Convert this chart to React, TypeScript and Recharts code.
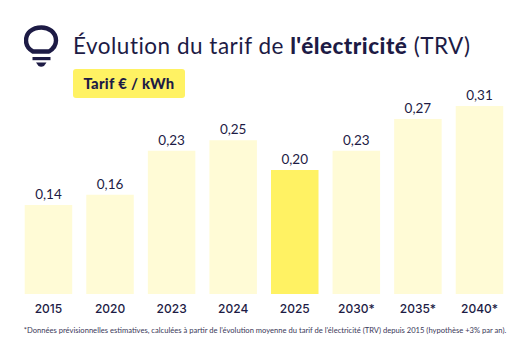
import React from "react";
import { BarChart, Bar, XAxis, YAxis, Cell, LabelList } from "recharts";

const categories = ["2015", "2020", "2023", "2024", "2025", "2030*", "2035*", "2040*"];
const heights = [0.1435, 0.16, 0.231, 0.248, 0.2, 0.231, 0.282, 0.303];
const valueLabels = ["0,14", "0,16", "0,23", "0,25", "0,20", "0,23", "0,27", "0,31"];
const highlighted = "2025";
const rows = categories.map((c, i) => ({ year: c, tarif: heights[i], label: valueLabels[i] }));

const INK = "#1d1b45";
const FONT = "Lato, 'Noto Sans', sans-serif";

export default function App() {
  return (
    <div style={{ position: "absolute", left: 0, top: 0, width: 528, height: 352, background: "#fff", overflow: "hidden", fontFamily: FONT, color: INK }}>
      <svg width={36} height={44} viewBox="0 0 36 44" style={{ position: "absolute", left: 24, top: 24 }}>
        <path d="M10.5 27.5 C6 25 3.5 21 3.5 16.5 C3.5 9 9.5 3.5 19 3.5 C 26 3.5 33.5 8 33.5 16.5 C33.5 21 30.5 25 26.5 27.5 Z" transform="translate(-1.5 0)" fill="none" stroke={INK} strokeWidth={4.4} strokeLinejoin="round" />
        <rect x={10.5} y={33} width={18} height={3.2} fill={INK} transform="translate(-2 0)" />
        <path d="M14 39 H 24.5 L 22 42.5 Q 19 44 16.5 42.5 Z" transform="translate(-2 -0.5)" fill={INK} />
      </svg>
      <div style={{ position: "absolute", left: 73, top: 32, fontSize: 22.5, lineHeight: "28px", whiteSpace: "nowrap", letterSpacing: 0.5 }}>
        Évolution du tarif de <b style={{ fontWeight: 900 }}>l'électricité</b> (TRV)
      </div>
      <div style={{ position: "absolute", left: 73, top: 69, width: 112, height: 29, background: "#fff263", borderRadius: 3, textAlign: "center", lineHeight: "29px", fontSize: 14.8, fontWeight: 900, letterSpacing: 0.3, whiteSpace: "nowrap" }}>
        Tarif € / kWh
      </div>
      <BarChart
        width={528}
        height={352}
        data={rows}
        margin={{ top: 80, right: 17.7, bottom: 28, left: 17.7 }}
        barCategoryGap={0}
        style={{ position: "absolute", left: 0, top: 0 }}
      >
        <XAxis
          dataKey="year"
          height={30}
          axisLine={false}
          tickLine={false}
          interval={0}
          tickMargin={4}
          tick={{ fill: INK, fontSize: 12, fontFamily: "Inter, sans-serif", fontWeight: 500 }}
        />
        <YAxis hide domain={[0, 0.345]} />
        <Bar dataKey="tarif" barSize={47.5} isAnimationActive={false}>
          {rows.map((r) => (
            <Cell key={r.year} fill={r.year === highlighted ? "#fff263" : "#fffbd6"} />
          ))}
          <LabelList dataKey="label" position="top" offset={6} fill={INK} fontSize={13.5} fontFamily={FONT} />
        </Bar>
      </BarChart>
      <div style={{ position: "absolute", left: 1, width: 528, textAlign: "center", top: 324, fontSize: 7.6, lineHeight: "12px", whiteSpace: "nowrap", color: "#3a3858" }}>
        *Données prévisionnelles estimatives, calculées à partir de l'évolution moyenne du tarif de l'électricité (TRV) depuis 2015 (hypothèse +3% par an).
      </div>
    </div>
  );
}
